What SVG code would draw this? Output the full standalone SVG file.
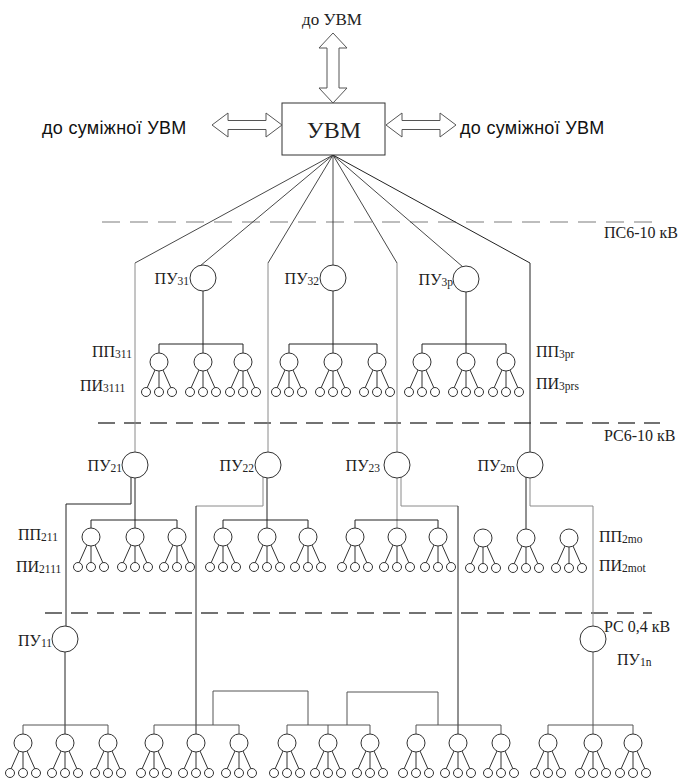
<svg xmlns="http://www.w3.org/2000/svg" xmlns:xlink="http://www.w3.org/1999/xlink" width="683" height="778" viewBox="0 0 683 778">
<style>
.ln{stroke:#222;stroke-width:1;fill:none}
.gl{stroke:#8a8a8a;stroke-width:1;fill:none}
.bl{stroke:#555;stroke-width:1;fill:none}
.fan{stroke:#333;stroke-width:0.9;fill:none}
.nd{stroke:#333;stroke-width:1;fill:#fff}
.arr{stroke:#555;stroke-width:1;fill:#fff}
.t{font-family:"Liberation Serif","Times New Roman",serif;font-size:16px;fill:#222}
.s{font-size:11.5px}
.sans{font-family:"Liberation Sans",Arial,sans-serif;font-size:18px;letter-spacing:0.3px;fill:#111}
.dash1{stroke:#bdbdbd;stroke-width:2;stroke-dasharray:18 10;fill:none}
.dash2{stroke:#444;stroke-width:1.5;stroke-dasharray:17 9;fill:none}
</style>
<defs>
<g id="pp" stroke="#333" stroke-width="1" fill="#fff">
<line x1="-4" y1="8" x2="-12" y2="26"/>
<line x1="0" y1="9" x2="0" y2="26"/>
<line x1="4" y1="8" x2="12" y2="26"/>
<circle cx="0" cy="0" r="9"/>
<circle cx="-13" cy="30" r="4.5"/>
<circle cx="0" cy="30" r="4.5"/>
<circle cx="13" cy="30" r="4.5"/>
</g>
</defs>
<rect width="683" height="778" fill="#fff"/>

<g id="separators">
<line class="dash1" x1="102" y1="222" x2="655" y2="222"/>
<line class="dash2" x1="98" y1="423" x2="660" y2="423"/>
<line class="dash2" x1="45" y1="613" x2="652" y2="613"/>
<text class="t" x="604" y="238">ПС6-10 кВ</text>
<text class="t" x="604" y="441">РС6-10 кВ</text>
<text class="t" x="604" y="632">РС 0,4 кВ</text>
</g>

<g id="connectors">
<polyline class="fan" points="333,155 135,263"/>
<line class="fan" x1="333" y1="155" x2="200" y2="266"/>
<polyline class="fan" points="333,155 268,263"/>
<line class="fan" x1="333" y1="155" x2="333" y2="265"/>
<polyline class="fan" points="333,155 397,263"/>
<line class="fan" x1="333" y1="155" x2="463" y2="267"/>
<polyline class="ln" points="333,155 530,263 530,452"/>
<line class="gl" x1="135" y1="263" x2="135" y2="452"/>
<line class="gl" x1="268" y1="263" x2="268" y2="452"/>
<line class="gl" x1="397" y1="263" x2="397" y2="452"/>

<line class="ln" x1="203" y1="291" x2="203" y2="344"/>
<polyline class="ln" points="159,353 159,344 243,344 243,353"/>
<line class="ln" x1="203" y1="344" x2="203" y2="353"/>
<line class="ln" x1="333" y1="291" x2="333" y2="344"/>
<polyline class="ln" points="289,353 289,344 377,344 377,353"/>
<line class="ln" x1="333" y1="344" x2="333" y2="353"/>
<line class="ln" x1="466" y1="292" x2="466" y2="344"/>
<polyline class="ln" points="422,353 422,344 506,344 506,353"/>
<line class="ln" x1="466" y1="344" x2="466" y2="353"/>

<polyline class="ln" points="131,477 131,504 66,504 66,626"/>
<line class="ln" x1="135" y1="478" x2="135" y2="528"/>
<polyline class="ln" points="91,528 91,520 177,520 177,528"/>
<polyline class="gl" points="263,477 263,506 196,506"/>
<line class="ln" x1="196" y1="506" x2="196" y2="734"/>
<line class="ln" x1="267" y1="478" x2="267" y2="528"/>
<polyline class="ln" points="223,528 223,520 308,520 308,528"/>
<line class="gl" x1="397" y1="478" x2="397" y2="528"/>
<polyline class="ln" points="355,528 355,520 438,520 438,528"/>
<polyline class="gl" points="401,477 401,506 458,506"/>
<line class="ln" x1="458" y1="506" x2="458" y2="734"/>
<line class="ln" x1="526" y1="477" x2="526" y2="529"/>
<polyline class="gl" points="530,477 530,506 593,506 593,626"/>

<line class="ln" x1="65" y1="652" x2="65" y2="734"/>
<polyline class="bl" points="23,734 23,725 108,725 108,734"/>
<polyline class="bl" points="154,734 154,725 239,725 239,734"/>
<polyline class="bl" points="287,734 287,725 370,725 370,734"/>
<line class="bl" x1="328" y1="725" x2="328" y2="734"/>
<polyline class="bl" points="416,734 416,725 501,725 501,734"/>
<polyline class="bl" points="548,734 548,725 633,725 633,734"/>
<line class="bl" x1="593" y1="652" x2="593" y2="734"/>
<polyline class="bl" points="213,725 213,691 308,691 308,725"/>
<polyline class="bl" points="347,725 347,692 438,692 438,725"/>
</g>

<g id="uvm">
<rect class="nd" x="282" y="103" width="103" height="52"/>
<text class="t" x="334" y="138" text-anchor="middle" style="font-size:24px">УВМ</text>
</g>
<g id="arrow-up">
<polygon class="arr" points="333,33 347,48 339,48 339,88 347,88 333,103 319,88 327,88 327,48 319,48"/>
<text class="t" x="332" y="25" text-anchor="middle" style="font-size:17px">до УВМ</text>
</g>
<g id="arrow-left">
<polygon class="arr" points="212,125 228,113 228,120.5 266,120.5 266,113 282,125 266,137 266,129.5 228,129.5 228,137"/>
<text class="sans" x="42" y="134">до суміжної УВМ</text>
</g>
<g id="arrow-right">
<polygon class="arr" points="386,125 402,113 402,120.5 440,120.5 440,113 456,125 440,137 440,129.5 402,129.5 402,137"/>
<text class="sans" x="460" y="134">до суміжної УВМ</text>
</g>

<g id="pu31"><circle class="nd" cx="203" cy="278" r="13"/><text class="t" x="189" y="284" text-anchor="end">ПУ<tspan class="s" dy="1">31</tspan></text></g>
<g id="pu32"><circle class="nd" cx="333" cy="278" r="13"/><text class="t" x="319" y="284" text-anchor="end">ПУ<tspan class="s" dy="1">32</tspan></text></g>
<g id="pu3p"><circle class="nd" cx="466" cy="279" r="13"/><text class="t" x="453" y="285" text-anchor="end">ПУ<tspan class="s" dy="1">3p</tspan></text></g>
<g id="pp31"><use href="#pp" x="159" y="362"/><use href="#pp" x="203" y="362"/><use href="#pp" x="243" y="362"/></g>
<g id="pp32"><use href="#pp" x="289" y="362"/><use href="#pp" x="333" y="362"/><use href="#pp" x="377" y="362"/></g>
<g id="pp3p"><use href="#pp" x="422" y="362"/><use href="#pp" x="466" y="362"/><use href="#pp" x="506" y="362"/></g>
<g id="labels3">
<text class="t" x="92" y="357">ПП<tspan class="s" dy="1">311</tspan></text>
<text class="t" x="80" y="391">ПИ<tspan class="s" dy="1">3111</tspan></text>
<text class="t" x="536" y="357">ПП<tspan class="s" dy="1">3pr</tspan></text>
<text class="t" x="536" y="389">ПИ<tspan class="s" dy="1">3prs</tspan></text>
</g>

<g id="pu21"><circle class="nd" cx="135" cy="465" r="13"/><text class="t" x="122" y="471" text-anchor="end">ПУ<tspan class="s" dy="1">21</tspan></text></g>
<g id="pu22"><circle class="nd" cx="268" cy="465" r="13"/><text class="t" x="254" y="471" text-anchor="end">ПУ<tspan class="s" dy="1">22</tspan></text></g>
<g id="pu23"><circle class="nd" cx="397" cy="465" r="13"/><text class="t" x="380" y="471" text-anchor="end">ПУ<tspan class="s" dy="1">23</tspan></text></g>
<g id="pu2m"><circle class="nd" cx="530" cy="465" r="13"/><text class="t" x="515" y="471" text-anchor="end">ПУ<tspan class="s" dy="1">2m</tspan></text></g>
<g id="pp21"><use href="#pp" x="91" y="537"/><use href="#pp" x="135" y="537"/><use href="#pp" x="177" y="537"/></g>
<g id="pp22"><use href="#pp" x="223" y="537"/><use href="#pp" x="267" y="537"/><use href="#pp" x="308" y="537"/></g>
<g id="pp23"><use href="#pp" x="355" y="537"/><use href="#pp" x="397" y="537"/><use href="#pp" x="438" y="537"/></g>
<g id="pp2m"><use href="#pp" x="483" y="538"/><use href="#pp" x="526" y="538"/><use href="#pp" x="569" y="538"/></g>
<g id="labels2">
<text class="t" x="18" y="540">ПП<tspan class="s" dy="1">211</tspan></text>
<text class="t" x="16" y="572">ПИ<tspan class="s" dy="1">2111</tspan></text>
<text class="t" x="599" y="542">ПП<tspan class="s" dy="1">2mo</tspan></text>
<text class="t" x="599" y="571">ПИ<tspan class="s" dy="1">2mot</tspan></text>
</g>

<g id="pu11"><circle class="nd" cx="65" cy="639" r="13"/><text class="t" x="52" y="646" text-anchor="end">ПУ<tspan class="s" dy="1">11</tspan></text></g>
<g id="pu1n"><circle class="nd" cx="593" cy="639" r="13"/><text class="t" x="617" y="665">ПУ<tspan class="s" dy="1">1n</tspan></text></g>
<g id="pp1a"><use href="#pp" x="23" y="743"/><use href="#pp" x="65" y="743"/><use href="#pp" x="108" y="743"/></g>
<g id="pp1b"><use href="#pp" x="154" y="743"/><use href="#pp" x="196" y="743"/><use href="#pp" x="239" y="743"/></g>
<g id="pp1c"><use href="#pp" x="287" y="743"/><use href="#pp" x="328" y="743"/><use href="#pp" x="370" y="743"/></g>
<g id="pp1d"><use href="#pp" x="416" y="743"/><use href="#pp" x="458" y="743"/><use href="#pp" x="501" y="743"/></g>
<g id="pp1e"><use href="#pp" x="548" y="743"/><use href="#pp" x="593" y="743"/><use href="#pp" x="633" y="743"/></g>
</svg>
